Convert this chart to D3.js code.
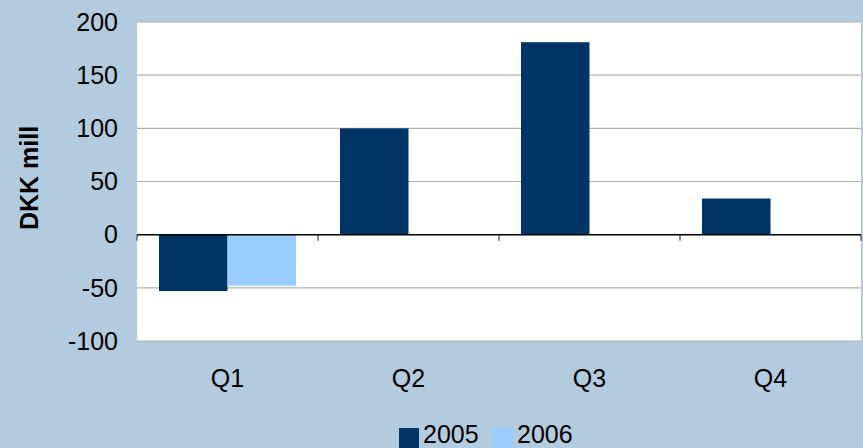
<!DOCTYPE html>
<html><head><meta charset="utf-8">
<script src="https://cdn.jsdelivr.net/npm/d3@7"></script>
<style>html,body{margin:0;padding:0;background:#b3cbdf;}svg{display:block;}</style>
</head><body>
<svg id="c" width="863" height="448"></svg>
<script>
const categories = ["Q1","Q2","Q3","Q4"];
const seriesNames = ["2005","2006"];
const values2005 = [-53, 100, 181, 34];
const values2006 = [-48, null, null, null];
const yTicks = [-100,-50,0,50,100,150,200];
const colors = ["#003366","#99ccff"];

const svg = d3.select("#c");
const W=863,H=448;
const L=137,R=861,T=22,B=341;
svg.append("rect").attr("width",W).attr("height",H).attr("fill","#b3cbdf");
svg.append("rect").attr("x",L).attr("y",T).attr("width",R-L).attr("height",B-T).attr("fill","#fff");

const x = d3.scaleBand().domain(categories).range([L,R]).paddingInner(0.243).paddingOuter(0.1215);
const xs = d3.scaleBand().domain(seriesNames).range([0,x.bandwidth()]);
const y = d3.scaleLinear().domain([-100,200]).range([B,T]);
const font = "'Liberation Sans', Arial, sans-serif";
const fs = 25;

// gridlines
svg.append("g").selectAll("line").data(yTicks.filter(d=>d!==0)).join("line")
  .attr("x1",L).attr("x2",R).attr("y1",d=>y(d)).attr("y2",d=>y(d))
  .attr("stroke","#b0b0b0").attr("stroke-width",1.2);

// bars
const data = [values2005, values2006];
const g = svg.append("g");
categories.forEach((c,i)=>{
  seriesNames.forEach((s,j)=>{
    const v = data[j][i];
    if(v==null) return;
    g.append("rect").attr("x",x(c)+xs(s)).attr("width",xs.bandwidth())
      .attr("y",y(Math.max(0,v))).attr("height",Math.abs(y(v)-y(0)))
      .attr("fill",colors[j]);
  });
});

// zero axis line with category ticks
const bounds = d3.range(categories.length+1).map(i=>L+i*(R-L)/categories.length);
svg.append("g").selectAll("line").data(bounds).join("line")
  .attr("x1",d=>d).attr("x2",d=>d).attr("y1",y(0)).attr("y2",y(0)+6)
  .attr("stroke","#666").attr("stroke-width",1.5);
svg.append("line").attr("x1",L).attr("x2",R).attr("y1",y(0)).attr("y2",y(0))
  .attr("stroke","#000").attr("stroke-width",1.5);

// y tick labels
svg.append("g").selectAll("text").data(yTicks).join("text")
  .attr("x",118).attr("y",d=>y(d)).attr("dy","0.35em").attr("text-anchor","end")
  .attr("font-family",font).attr("font-size",fs).attr("fill","#000").text(d=>d);

// x labels
svg.append("g").selectAll("text").data(categories).join("text")
  .attr("x",d=>x(d)+x.bandwidth()/2).attr("y",387).attr("text-anchor","middle")
  .attr("font-family",font).attr("font-size",fs).attr("fill","#000").text(d=>d);

// y title
svg.append("text").attr("transform","translate(38,178) rotate(-90)").attr("text-anchor","middle")
  .attr("font-family",font).attr("font-size",fs).attr("font-weight","bold").attr("fill","#000").text("DKK mill");

// legend
const leg = svg.append("g");
const legX = [399, 493];
seriesNames.forEach((s,j)=>{
  leg.append("rect").attr("x",legX[j]).attr("y",428).attr("width",20).attr("height",20).attr("fill",colors[j]);
  leg.append("text").attr("x",legX[j]+24).attr("y",443).attr("font-family",font).attr("font-size",fs)
    .attr("fill","#000").text(s);
});
</script>
</body></html>
